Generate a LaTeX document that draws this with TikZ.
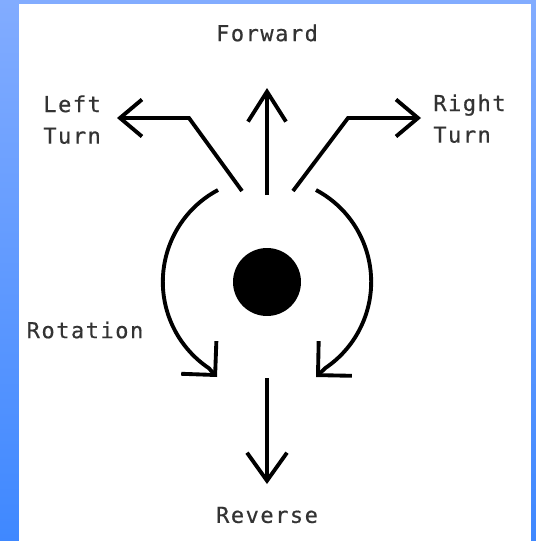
\documentclass[tikz,border=0pt]{standalone}
\usepackage{fontspec}
\newfontfamily\lblfont[LetterSpace=7, FakeBold=0.5]{DejaVu Sans Mono}
\usetikzlibrary{arrows.meta}
\definecolor{frametop}{HTML}{82ACFF}
\definecolor{framebot}{HTML}{3F88FF}

\begin{document}
\begin{tikzpicture}[x=0.02cm, y=0.02cm,
    lbl/.style={font=\lblfont\fontsize{12.5}{18}\selectfont, text=black!80, inner sep=0pt},
    move/.style={line width=2.2pt, line join=miter},
    rot/.style={line width=2.2pt, -{Straight Barb[length=0.48cm, width=0.96cm]}}]
    % 背景与边框
    \useasboundingbox (0,0) rectangle (536,-541);
    \shade[top color=frametop, bottom color=framebot] (0,0) rectangle (536,-541);
    \fill[white] (19,-4) rectangle (531,-541);

    % 中心点
    \node[circle, fill=black, minimum size=1.36cm, inner sep=0pt] (hub) at (267,-282) {};

    % 文字标注
    \node[lbl] (fwdlbl) at (267,-33) {Forward};
    \node[lbl, align=left, anchor=north west] (leftlbl) at (43,-95) {Left\\Turn};
    \node[lbl, align=left, anchor=north west] (rightlbl) at (433,-94) {Right\\Turn};
    \node[lbl] (rotlbl) at (85,-330) {Rotation};
    \node[lbl] (revlbl) at (267,-515) {Reverse};

    % 端点
    \coordinate (fwdbase) at (267,-195);
    \coordinate (fwdtip) at (267,-88);
    \coordinate (leftbase) at (242,-191);
    \coordinate (leftknee) at (189,-118);
    \coordinate (lefttip) at (117,-118);
    \coordinate (rightbase) at (293,-191);
    \coordinate (rightknee) at (348,-118);
    \coordinate (righttip) at (421,-118);
    \coordinate (revbase) at (267,-378);
    \coordinate (revtip) at (267,-484);
    \coordinate (ccwstart) at (218,-190);
    \coordinate (ccwtip) at (217,-377);
    \coordinate (cwstart) at (316,-190);
    \coordinate (cwtip) at (316,-377);

    % 直线箭头
    \draw[move, -{Straight Barb[length=0.6cm, width=0.76cm]}] (fwdbase) -- (fwdtip);
    \draw[move, -{Straight Barb[length=0.44cm, width=0.74cm]}] (leftbase) -- (leftknee) -- (lefttip);
    \draw[move, -{Straight Barb[length=0.44cm, width=0.74cm]}] (rightbase) -- (rightknee) -- (righttip);
    \draw[move, -{Straight Barb[length=0.56cm, width=0.8cm]}] (revbase) -- (revtip);

    % 旋转弧线
    \draw[rot] (ccwstart) arc[start angle=118, end angle=236, radius=104] -- (ccwtip);
    \draw[rot] (cwstart) arc[start angle=62, end angle=-56, radius=104] -- (cwtip);
\end{tikzpicture}
\end{document}
